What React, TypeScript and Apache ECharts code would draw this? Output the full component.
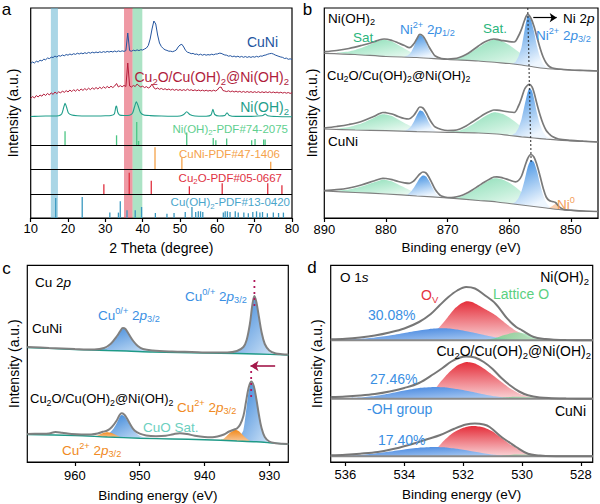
import React, { useEffect, useRef } from "react";
import * as echarts from "echarts";

type P = [number, number];
const FONT = "'Liberation Sans', Arial, Helvetica, sans-serif";

// ---------------- Panel a : XRD ----------------
const xrdStart = 10;
const xrdStep = 0.5;
const xrdTicks = [10, 20, 30, 40, 50, 60, 70, 80];
const xrdCuNi = [
  154.5, 156, 155, 156.8, 156, 157.8, 157, 158.9, 158.2, 160,
  159.4, 160.8, 160.5, 161.9, 161, 162.4, 161.8, 163, 162.2, 163.5,
  162.8, 164, 163.2, 164.3, 163.6, 164.8, 164, 165, 164.2, 165.3,
  164.5, 165.6, 164.8, 165.8, 165.1, 166, 165.3, 166.2, 165.5, 166.4,
  165.7, 166.6, 165.9, 166.7, 166, 167, 166.2, 167.1, 166.4, 167.2,
  166.6, 167.4, 185, 167.3, 166.8, 167.8, 167.2, 168.1, 167.4, 168.3,
  168, 169, 170, 172.5, 179, 189, 197, 194, 183, 175,
  171.5, 169.5, 168.2, 167.6, 166.8, 166.8, 166.3, 167, 168, 171,
  173, 173.7, 171, 167.5, 165.8, 165.2, 164.3, 164.6, 163.6, 164,
  163, 163.8, 162.8, 163.6, 162.8, 163.4, 163, 163.8, 163.2, 164,
  164, 164.8, 164.7, 163.8, 163, 162.8, 161.8, 162.3, 161.3, 161.9,
  161, 161.8, 160.8, 161.6, 160.7, 161.5, 160.6, 161.4, 160.6, 161.4,
  160.8, 161.7, 161, 162, 161.8, 162.7, 163, 163.8, 164.3, 164.6,
  164, 163, 162.3, 161.6, 161, 160.6, 159.5, 159.9, 158.7, 159.2,
  158.5,
];
const xrdCu2O = [
  119.5, 121.5, 120, 122.5, 121, 123, 121.8, 124, 122.5, 124.6,
  123, 125.2, 123.6, 126, 124.4, 126.2, 125, 127, 125.6, 127.4,
  126, 128, 126.4, 128.3, 126.8, 128.6, 127.2, 129, 127.6, 129.4,
  128, 129.8, 128.3, 130.2, 128.7, 130.5, 129, 130.8, 129.4, 131.2,
  129.8, 131.6, 130.1, 131.8, 130.4, 132, 134.5, 131, 132.4, 131.2,
  132.6, 131.5, 155, 132, 131, 132.5, 131.5, 134, 132.2, 131,
  131.8, 130.4, 131.4, 130, 131, 134, 130.2, 129, 130, 128.7,
  129.6, 128.4, 129.3, 128.1, 129, 127.9, 128.8, 127.7, 128.6, 127.6,
  128.5, 127.5, 128.4, 127.5, 128.8, 127.6, 128.3, 127.3, 128.2, 127.2,
  128, 127.1, 127.9, 127, 127.8, 126.9, 127.6, 126.9, 127.8, 127,
  128, 130.5, 131, 127.5, 127, 126.4, 127.2, 126.2, 127, 126,
  126.9, 125.9, 126.7, 125.7, 126.6, 125.6, 126.5, 125.6, 126.4, 125.5,
  126.3, 125.5, 126.3, 125.4, 126.2, 125.4, 126.2, 125.4, 126.2, 125.3,
  126, 125.2, 125.9, 125, 125.8, 124.9, 125.6, 124.8, 125.5, 124.6,
  125.3,
];
const xrdNiOH2: P[] = [
  [10, 101.5], [12, 101.8], [14, 102], [16, 102], [17.5, 102.3], [18.3, 104], [18.8, 110], [19.2, 114.7],
  [19.6, 111], [20.1, 105], [21, 103], [22.5, 102.3], [25, 102], [28, 102], [30, 102.2], [31.5, 102.5],
  [32.4, 104], [32.8, 111], [33.0, 112], [33.3, 106], [33.8, 103], [35, 102.5], [36.5, 102.8], [37.3, 105],
  [37.8, 111], [38.3, 116.3], [38.8, 112], [39.4, 105.5], [40.3, 103], [42, 102.4], [45, 102], [48, 101.8],
  [50, 102], [51, 103.5], [51.8, 106.3], [52.6, 103.5], [54, 102], [57, 101.8], [58.3, 103], [58.8, 108.7],
  [59.3, 103.5], [60.5, 102], [62, 102.5], [62.6, 105.3], [63.2, 102.5], [65, 101.6], [68, 101.6], [70, 101.8],
  [72.2, 102.5], [72.8, 104], [73.5, 102.3], [76, 101.5], [80, 101.2],
];
const pdfNiOH2: P[] = [
  [19.2, 13.7], [33.0, 9.7], [38.4, 23], [38.9, 4], [51.8, 12.4], [58.9, 7], [59.6, 4.7], [62.5, 6.4],
  [69.2, 4.7], [70.1, 6], [72.4, 5.5], [72.8, 5.5],
];
const pdfCuNi: P[] = [[43.3, 22.5], [50.5, 12.5], [74.3, 8]];
const pdfCu2O: P[] = [[29.6, 10], [36.4, 21.6], [42.3, 13.6], [52.5, 8], [61.3, 11], [73.5, 11], [77.3, 9]];
const pdfCuOH2: P[] = [
  [16.7, 20], [23.8, 21], [31.2, 5.4], [33.5, 5.4], [34.0, 16.7], [35.8, 7.7], [38.0, 7.7], [39.7, 11],
  [43.4, 5], [46.5, 4.3], [48.4, 5], [51.4, 6], [53.2, 11], [54.2, 6], [54.9, 6.7], [55.5, 6.7], [56.1, 6],
  [61.6, 5.4], [62.1, 6.7], [62.7, 6.7], [63.4, 6], [64.8, 6.7], [65.6, 5.4], [67.1, 5.4], [68.3, 4.7],
  [69.5, 6], [70.5, 6.7], [71.4, 5.4], [72.1, 6], [73.4, 4.7], [75.0, 5.4], [76.4, 5], [77.7, 5.4],
];
const pdfBases = [73, 48.3, 23.7, 0];
const xrdBands: P[] = [[15.4, 17.3], [35.0, 37.3], [37.3, 39.9]];

// ---------------- Panel b : Ni 2p ----------------
const niTicks = [850, 860, 870, 880, 890];
const niFitA: P[] = [
  [890, 166.3], [888, 167.5], [886, 169.5], [884, 172.5], [882, 176], [881, 178.3], [880.3, 179], [879, 177.5],
  [878, 175], [877, 172.5], [876.2, 170.3], [875.5, 174], [875, 179], [874.5, 183.7], [874, 182], [873.5, 177],
  [873, 171], [872.5, 166], [872, 162], [871, 159.5], [870, 159], [869, 159.3], [868, 160.8], [867, 163.5],
  [866, 167.5], [865, 172], [864, 176], [863, 178.5], [862.5, 179], [862, 178.6], [861, 177.3], [860, 176.3],
  [859.2, 176], [858.5, 182], [858, 189], [857.5, 198], [857, 203.7], [856.5, 200], [856, 192], [855.5, 181],
  [855, 170], [854.5, 161], [854, 155], [853.5, 151.5], [853, 150], [852, 149], [850, 148], [848, 147.5], [845.6, 147],
];
const niBgA: P[] = [
  [890, 164.7], [885, 163.5], [880, 161.5], [875, 160.5], [870, 158.5], [865, 157], [862, 155.5], [860, 154.5],
  [858, 153], [856, 151], [854, 149.5], [852, 148.7], [850, 148], [845.6, 147],
];
const niSat1A: P[] = [
  [888, 165.2], [886, 166.5], [884, 170], [882, 175], [881, 177.5], [880.5, 178.3], [880, 178], [879, 176.5],
  [878, 173], [877, 169.5], [876, 166], [875, 163.5], [874, 162], [873, 160.8], [872, 159.8],
];
const niP12A: P[] = [
  [877, 161], [876.5, 162.5], [876, 165], [875.5, 171], [875, 178.5], [874.5, 183], [874, 181], [873.5, 175.5],
  [873, 168.5], [872.5, 163.5], [872, 160.5], [871.5, 159.5],
];
const niSat2A: P[] = [
  [870, 158.5], [868, 160.5], [867, 163], [866, 166.5], [865, 170.5], [864, 174.5], [863, 177.5], [862.5, 178.5],
  [862, 178.3], [861, 176.5], [860, 173], [859, 168.5], [858, 164], [857, 159.5], [856, 155.5], [855, 152.5], [854, 150],
];
const niP32A: P[] = [
  [859.5, 154], [859, 156], [858.5, 161.5], [858, 171], [857.5, 188], [857, 202.5], [856.5, 198.5], [856, 187],
  [855.5, 172], [855, 161], [854.5, 154], [854, 151], [853.5, 149.8],
];
const niFitB: P[] = [
  [890, 90], [888, 91.5], [886, 93.5], [884, 96.5], [882, 101.5], [881, 104.5], [880.5, 105.5], [880, 105.3],
  [879, 104], [878, 101.5], [877, 99.5], [876.3, 99], [875.5, 102.5], [875, 107], [874.5, 111], [874, 110],
  [873.5, 105.5], [873, 99.5], [872.5, 94.5], [872, 91], [871, 88.5], [870, 87.5], [869, 87.6], [868, 89],
  [867, 92], [866, 96], [865, 100], [864, 104], [863, 107], [862.5, 108], [862, 107.8], [861, 107], [860, 106],
  [859.2, 105.5], [858.5, 112], [858, 120], [857.5, 129], [857, 133], [856.7, 133.7], [856.3, 131], [856, 126],
  [855.5, 114], [855, 103], [854.5, 94], [854, 87.5], [853.5, 84], [853, 81.5], [852, 79], [850, 77.6], [848, 76.8], [845.6, 76],
];
const niBgB: P[] = [
  [890, 89], [885, 88], [880, 87.3], [875, 86.3], [870, 85.7], [865, 85], [862, 84], [860, 82.5], [858, 81.2],
  [856, 80], [854, 78.8], [852, 77.8], [850, 77.2], [845.6, 76],
];
const niSat1B: P[] = [
  [888, 89], [886, 91], [884, 94.5], [882, 100], [881, 103], [880.5, 103.8], [880, 103.6], [879, 102], [878, 98.5],
  [877, 95], [876, 92], [875, 89.5], [874, 88], [873, 87],
];
const niP12B: P[] = [
  [877, 87.2], [876.5, 88.5], [876, 91], [875.5, 96], [875, 102.5], [874.5, 107.5], [874, 106.5], [873.5, 101.5],
  [873, 95], [872.5, 90], [872, 87.3], [871.5, 86.2],
];
const niSat2B: P[] = [
  [870, 86], [868, 87.5], [867, 90], [866, 93.5], [865, 97.5], [864, 101.5], [863, 104.8], [862.5, 105.8],
  [862, 105.6], [861, 104], [860, 100.5], [859, 96], [858, 91], [857, 87], [856, 83.5], [855, 81],
];
const niP32B: P[] = [
  [859.5, 83], [859, 85], [858.5, 90], [858, 99], [857.5, 113], [857, 126], [856.7, 130], [856.3, 127], [856, 120],
  [855.5, 105], [855, 93.5], [854.5, 86], [854, 81.5], [853.5, 79.5],
];
const niFitC: P[] = [
  [890, 27.5], [888, 28.3], [886, 30], [884, 33], [882, 37], [881, 39], [880.5, 39.7], [880, 39.5], [879, 38.3],
  [878, 36.5], [877, 35.2], [876.2, 34.7], [875.5, 37], [875, 40.5], [874.5, 44], [874, 46], [873.5, 45], [873, 40.5],
  [872.5, 34.5], [872, 28.5], [871.5, 24.5], [871, 22], [870, 20.5], [869, 20.7], [868, 22], [867, 24.5], [866, 28],
  [865, 32], [864, 36], [863, 39.5], [862.5, 41], [862, 41.2], [861, 40], [860, 38], [859, 36.2], [858.5, 37.5],
  [858, 42], [857.5, 51], [857, 59.5], [856.5, 63.5], [856, 61], [855.5, 53], [855, 42], [854.5, 30], [854, 21],
  [853.5, 17.5], [853, 16.5], [852.5, 15.5], [852, 12], [851.5, 9.5], [851, 8.3], [850, 7.8], [848, 7], [845.6, 6.5],
];
const niBgC: P[] = [
  [890, 27], [885, 25.5], [880, 24], [875, 22], [870, 20], [865, 17.5], [862, 16], [860, 14.5], [858, 13],
  [856, 11.5], [854, 10], [852, 8.5], [850, 7.5], [845.6, 6.5],
];
const niSat1C: P[] = [
  [888, 27], [886, 28.5], [884, 31.5], [882, 35.5], [881, 37.5], [880.5, 38.2], [880, 38], [879, 36.5], [878, 33.5],
  [877, 30.5], [876, 27.5], [875, 25], [874, 23.3], [873, 22.3],
];
const niP12C: P[] = [
  [877, 22.5], [876.5, 23.5], [876, 26], [875.5, 30], [875, 35], [874.5, 40], [874, 42.5], [873.5, 41.5], [873, 37],
  [872.5, 31], [872, 25.5], [871.5, 22], [871, 20.5],
];
const niSat2C: P[] = [
  [870, 20], [868, 21], [867, 23.5], [866, 27], [865, 31], [864, 35], [863, 38.5], [862.5, 39.7], [862, 39.8],
  [861, 38.3], [860, 35.3], [859, 31], [858, 26], [857, 21.5], [856, 17.5], [855, 14.5], [854, 12],
];
const niP32C: P[] = [
  [859.5, 14], [859, 16], [858.5, 20], [858, 27], [857.5, 38], [857, 51], [856.5, 58], [856, 56], [855.5, 47],
  [855, 34], [854.5, 23], [854, 15.5], [853.5, 11.5], [853, 10.5],
];
const niNi0C: P[] = [[853.5, 10], [853, 12], [852.5, 14], [852, 12.5], [851.5, 9.5], [851, 8.5]];
const niGuide: P[] = [[857.0, 209.7], [856.45, 56]];
const niArrow: P[] = [[856.1, 200.3], [852.3, 200.3]];

// ---------------- Panel c : Cu 2p ----------------
const cuTicks = [930, 940, 950, 960];
const cuFitA: P[] = [
  [967.35, 115], [964, 114], [960, 113], [957, 112.5], [955.5, 114], [954.5, 118], [953.5, 126], [953, 131],
  [952.6, 134], [952.2, 133], [951.7, 128], [951, 121], [950.3, 116], [949.5, 113], [948, 111.5], [945, 110.5],
  [942, 110], [939, 109.5], [936.5, 109.5], [935, 111], [934, 115], [933.5, 122], [933, 138], [932.6, 158],
  [932.3, 166], [932, 160], [931.6, 145], [931.2, 130], [930.7, 118], [930, 111.5], [929, 108.5], [928, 107.8], [927.07, 107.5],
];
const cuBgA: P[] = [
  [967.35, 114.5], [960, 112.5], [955, 111.5], [952, 111], [948, 110], [940, 109], [935, 108.5], [932, 108], [927.07, 107],
];
const cuP1A: P[] = [
  [958, 112.2], [957, 112.5], [956, 113], [955, 114.3], [954.5, 117], [953.5, 125], [953, 130.5], [952.6, 133.5],
  [952.2, 132.5], [951.7, 127.5], [951, 120.5], [950.3, 115.5], [949.5, 112.5], [948.5, 111], [947.5, 110.3],
];
const cuP2A: P[] = [
  [936, 108.8], [935, 110.5], [934, 114.5], [933.5, 121.5], [933, 137], [932.6, 157], [932.3, 165], [932, 159],
  [931.6, 144], [931.2, 129], [930.7, 117], [930, 110.5], [929.5, 108.5], [929, 107.8],
];
const cuFitB: P[] = [
  [967.35, 28], [965.5, 28.3], [964, 28.6], [963, 30], [962, 29.3], [960.5, 28], [959, 27.5], [957.5, 27.6],
  [956.5, 28.5], [955.7, 30.2], [955, 31.5], [954.3, 35], [953.6, 41], [953.1, 47], [952.8, 48.7], [952.4, 47.5],
  [952, 44], [951.4, 37], [950.8, 31.5], [950, 28.3], [949, 26.5], [947.5, 25.8], [946, 26.2], [944.8, 27.8],
  [943.8, 28.8], [942.7, 28], [941.5, 26.3], [940, 25], [938.8, 24.8], [938, 25.5], [937, 27.5], [936.2, 30.5],
  [935.5, 32.3], [935, 33.5], [934.5, 37.5], [934, 46], [933.6, 60], [933.2, 74], [932.8, 80.5], [932.4, 76],
  [932, 63], [931.6, 47], [931.2, 34], [930.7, 25], [930, 20.5], [929, 18.8], [928, 18.2], [927.07, 18],
];
const cuBgB: P[] = [
  [967.35, 27.5], [960, 26.5], [955, 25], [950, 23.8], [945, 23], [940, 22.3], [935, 21], [932, 20.2], [930, 19.3], [927.07, 17.8],
];
const cuOr1B: P[] = [
  [957.5, 25.6], [956.5, 26.6], [956, 28], [955.5, 29.3], [955, 29.8], [954.5, 29.3], [954, 28], [953.5, 26.5], [953, 25], [952.5, 24.6],
];
const cuP1B: P[] = [
  [955.5, 25.5], [955, 26.8], [954.5, 30], [954, 33.8], [953.5, 39.5], [953.1, 45], [952.8, 47], [952.4, 46],
  [952, 42.5], [951.4, 36], [950.8, 30.5], [950.2, 27], [949.5, 25], [948.5, 24],
];
const cuOr2B: P[] = [
  [937.5, 22], [937, 23.5], [936.5, 26.5], [936, 29.5], [935.5, 31.5], [935.2, 32], [934.8, 31.3], [934.3, 28.5],
  [933.8, 25], [933.3, 22.5], [933, 21.3],
];
const cuP2B: P[] = [
  [935, 22], [934.5, 25.5], [934, 32], [933.6, 50], [933.2, 70], [932.8, 79.5], [932.4, 75], [932, 62], [931.6, 46],
  [931.2, 33], [930.7, 24.5], [930.2, 20.5], [929.8, 19.5],
];
const cuGuideA: P[] = [[932.3, 182], [932.3, 152]];
const cuGuideB: P[] = [[932.8, 91], [932.8, 65]];
const cuArrow: P[] = [[929.1, 96], [932.9, 96]];

// ---------------- Panel d : O 1s ----------------
const oTicks = [528, 530, 532, 534, 536];
const oBase = [121.7, 63.3, 5.7];
const oFitA: P[] = [
  [536.5, 122.7], [536, 123.2], [535.5, 124.5], [535, 126.5], [534.5, 129.5], [534, 133.5], [533.5, 140], [533.1, 148],
  [532.8, 156.7], [532.5, 165], [532.2, 171.5], [531.9, 175], [531.6, 173.5], [531.3, 167.5], [530.9, 158.3],
  [530.5, 143.3], [530.2, 135], [530, 131.7], [529.6, 125], [529.2, 123], [528.9, 122.3], [528.5, 121.9], [527.6, 121.7],
];
const oBlueA: P[] = [
  [536.3, 122], [536, 122.4], [535.5, 123.2], [535, 124.5], [534.5, 126.5], [534, 129], [533.5, 131.5], [533, 133.5],
  [532.6, 133.8], [532.2, 132.5], [531.8, 130.3], [531.4, 127.8], [531, 125.3], [530.6, 123.4], [530.2, 122.2], [529.8, 121.8],
];
const oRedA: P[] = [
  [533.4, 122.5], [533.1, 126], [532.8, 135], [532.6, 142], [532.3, 153], [532.1, 158], [531.9, 160.7], [531.7, 160],
  [531.5, 157], [531.2, 152], [530.9, 146.7], [530.5, 137.3], [530.2, 131], [530, 128.3], [529.8, 125], [529.5, 122.6], [529.2, 121.9],
];
const oGreenA: P[] = [
  [531.2, 122], [530.9, 124], [530.6, 127], [530.3, 129.3], [530, 129], [529.7, 126.5], [529.4, 124], [529.1, 122.5], [528.8, 121.8],
];
const oFitB: P[] = [
  [536.5, 65], [536, 65.5], [535.5, 66.5], [535, 68], [534.5, 70.5], [534, 74], [533.5, 79], [533, 88], [532.7, 94],
  [532.4, 100.5], [532.1, 104.5], [531.9, 105.5], [531.6, 104.5], [531.3, 100], [531, 93], [530.7, 84], [530.4, 76.5],
  [530.1, 70.5], [529.8, 66.8], [529.4, 64.5], [529, 63.8], [528.5, 63.4], [527.6, 63.3],
];
const oBlueB: P[] = [
  [536.2, 63.6], [535.5, 64.5], [535, 66], [534.5, 68.5], [534, 71.5], [533.5, 74], [533, 75], [532.6, 74.6],
  [532.2, 73], [531.8, 70.8], [531.4, 68.3], [531, 66], [530.6, 64.5], [530.2, 63.6],
];
const oRedB: P[] = [
  [533.4, 64], [533.1, 68], [532.8, 79], [532.5, 89], [532.2, 96.5], [531.9, 100], [531.6, 98.5], [531.3, 93.5],
  [531, 87], [530.7, 80], [530.4, 73.5], [530.1, 68.5], [529.8, 65.5], [529.5, 64], [529.2, 63.4],
];
const oGreenB: P[] = [[530.9, 63.5], [530.6, 64.5], [530.3, 65.2], [530, 65.3], [529.7, 64.8], [529.4, 64], [529.1, 63.4]];
const oFitC: P[] = [
  [536.5, 6.7], [536, 7.3], [535.5, 8.3], [534.9, 10], [534.3, 13.5], [533.7, 18.3], [533.2, 23], [532.8, 26.7],
  [532.3, 33.3], [531.9, 37.5], [531.6, 38.5], [531.3, 37.5], [531.1, 35], [530.7, 25], [530.4, 19], [530.2, 15],
  [529.8, 8.3], [529.4, 6.5], [529.2, 6], [528.5, 5.8], [527.6, 5.7],
];
const oBlueC: P[] = [
  [536.2, 6], [535.5, 7], [535, 8.5], [534.5, 10.5], [534, 12.6], [533.5, 14.3], [533, 15], [532.6, 14.6],
  [532.2, 13.2], [531.8, 11.3], [531.4, 9.3], [531, 7.5], [530.6, 6.3], [530.2, 5.8],
];
const oRedC: P[] = [
  [533.3, 6.5], [533, 10], [532.7, 20], [532.4, 28], [532.1, 33], [531.8, 35.7], [531.6, 36], [531.3, 34.5],
  [531, 30.5], [530.7, 24], [530.4, 17.5], [530.1, 12.5], [529.8, 9], [529.5, 7], [529.2, 6],
];
const oGreenC: P[] = [[530.8, 5.8], [530.5, 6.8], [530.2, 7.5], [529.9, 7.6], [529.6, 7], [529.3, 6.2], [529, 5.8]];

// ---------------- helpers ----------------
const lg = (x2: number, y2: number, stops: [number, string][]) =>
  new echarts.graphic.LinearGradient(0, 0, x2, y2, stops.map(([offset, color]) => ({ offset, color })));

function line(gi: number, data: P[], color: string, width: number, extra: any = {}) {
  return {
    type: "line", xAxisIndex: gi, yAxisIndex: gi, data, showSymbol: false, symbol: "none",
    smooth: 0.3, silent: true, z: 4, lineStyle: { color, width }, ...extra,
  };
}

function poly(gi: number, comp: P[], base: P[], fill: any, opacity = 1) {
  return {
    type: "custom", xAxisIndex: gi, yAxisIndex: gi, z: 2, silent: true, data: comp,
    renderItem: (params: any, api: any) => {
      if (params.dataIndex !== 0) return null;
      const first = comp[0][0];
      const last = comp[comp.length - 1][0];
      const lo = Math.min(first, last);
      const hi = Math.max(first, last);
      const desc = first > last;
      const back = base
        .filter((p) => p[0] > lo && p[0] < hi)
        .sort((a, b) => (desc ? a[0] - b[0] : b[0] - a[0]));
      const pts = comp.concat(back).map((p) => api.coord(p));
      return { type: "polygon", shape: { points: pts, smooth: 0.2 }, style: { fill, opacity } };
    },
  };
}

function sticks(gi: number, data: P[], base: number, color: string) {
  return {
    type: "custom", xAxisIndex: gi, yAxisIndex: gi, z: 3, silent: true, data,
    renderItem: (params: any, api: any) => {
      const x = api.value(0);
      const h = api.value(1);
      const a = api.coord([x, base]);
      const b = api.coord([x, base + h]);
      return { type: "line", shape: { x1: a[0], y1: a[1], x2: b[0], y2: b[1] }, style: { stroke: color, lineWidth: 1.3 } };
    },
  };
}

function xAx(gi: number, min: number, max: number, ticks: number[], name: string, nameGap: number, margin: number, inverse: boolean, nameSize: number) {
  return {
    type: "value", gridIndex: gi, min, max, inverse,
    name, nameLocation: "middle", nameGap,
    nameTextStyle: { fontFamily: FONT, fontSize: nameSize, color: "#000" },
    axisLine: { show: true, onZero: false, lineStyle: { color: "#000", width: 1.2 } },
    axisTick: { show: true, inside: false, length: 4, customValues: ticks, lineStyle: { color: "#000", width: 1.2 } },
    axisLabel: {
      show: true, margin, customValues: ticks, fontFamily: FONT, fontSize: 13, color: "#000",
      formatter: (v: number) => (ticks.indexOf(Math.round(v)) >= 0 && Math.abs(v - Math.round(v)) < 1e-6 ? String(Math.round(v)) : ""),
    },
    splitLine: { show: false },
  };
}

function yAx(gi: number, max: number, nameGap: number, nameSize: number) {
  return {
    type: "value", gridIndex: gi, min: 0, max,
    name: "Intensity (a.u.)", nameLocation: "middle", nameGap,
    nameTextStyle: { fontFamily: FONT, fontSize: nameSize, color: "#000" },
    axisLine: { show: false }, axisTick: { show: false }, axisLabel: { show: false }, splitLine: { show: false },
  };
}

function txt(x: number, y: number, text: string, color: string, fs: number, align = "left") {
  const s = Math.round(fs * 0.68 * 10) / 10;
  return {
    type: "text", x, y, silent: true, z: 100,
    style: {
      text, fill: color, fontSize: fs, fontFamily: FONT, lineHeight: fs + 4,
      align, verticalAlign: "middle", textAlign: align, textVerticalAlign: "middle",
      rich: {
        sub: { fontSize: s, fontFamily: FONT, fill: color, verticalAlign: "bottom", lineHeight: s },
        sup: { fontSize: s, fontFamily: FONT, fill: color, verticalAlign: "top", lineHeight: s },
        it: { fontSize: fs, fontFamily: FONT, fill: color, fontStyle: "italic", lineHeight: fs + 4 },
      },
    },
  };
}

function buildOption() {
  const gridBase = { show: true, borderColor: "#000", borderWidth: 1.2, backgroundColor: "transparent", containLabel: false, outerBoundsMode: "none" };
  const satFill = lg(1, 1, [[0, "#84dbb2"], [0.55, "#c4efda"], [1, "#ffffff"]]);
  const niBlue = lg(0.4, 1, [[0, "#2f86e0"], [1, "#eef6fe"]]);
  const cuBlue = lg(1, 1, [[0, "#2f7ed6"], [1, "#d3e6f8"]]);
  const cuOrange = lg(0, 1, [[0, "#f28a1c"], [1, "#f8c596"]]);
  const oRed = lg(0, 1, [[0, "#e52e3a"], [1, "#f9d2d5"]]);
  const oBlue = lg(1, 1, [[0, "#2f78dc"], [1, "#b8d3f4"]]);
  const oGreen = lg(1, 0, [[0, "#58cf7e"], [1, "#c9f0d5"]]);
  const bandColors = ["rgba(100,180,210,0.55)", "rgba(225,70,90,0.55)", "rgba(90,200,140,0.5)"];

  const series: any[] = [];
  // ---- panel a ----
  series.push(
    line(0, xrdNiOH2, "#1f9e8a", 1.1, {
      smooth: 0.2, z: 4,
      markArea: {
        silent: true, z: 1, label: { show: false },
        data: xrdBands.map((b, i) => [{ xAxis: b[0], itemStyle: { color: bandColors[i] } }, { xAxis: b[1] }]),
      },
      markLine: {
        silent: true, z: 6, symbol: ["none", "none"], label: { show: false },
        lineStyle: { color: "#000", width: 1.2, type: "solid" },
        data: pdfBases.slice(0, 3).map((v) => ({ yAxis: v })),
      },
    }),
  );
  series.push(line(0, xrdCu2O.map((v, i) => [xrdStart + i * xrdStep, v] as P), "#b51e3c", 1, { smooth: false }));
  series.push(line(0, xrdCuNi.map((v, i) => [xrdStart + i * xrdStep, v] as P), "#24559f", 1, { smooth: false }));
  series.push(sticks(0, pdfNiOH2, pdfBases[0], "#4cc684"));
  series.push(sticks(0, pdfCuNi, pdfBases[1], "#f5a24a"));
  series.push(sticks(0, pdfCu2O, pdfBases[2], "#e0303f"));
  series.push(sticks(0, pdfCuOH2, pdfBases[3], "#3a98c0"));

  // ---- panel b ----
  const niSets: [P[], P[], P[], P[], P[], P[]][] = [
    [niFitA, niBgA, niSat1A, niP12A, niSat2A, niP32A],
    [niFitB, niBgB, niSat1B, niP12B, niSat2B, niP32B],
    [niFitC, niBgC, niSat1C, niP12C, niSat2C, niP32C],
  ];
  niSets.forEach(([fit, bg, s1, p1, s2, p3]) => {
    series.push(poly(1, s1, bg, satFill));
    series.push(poly(1, p1, bg, niBlue));
    series.push(poly(1, s2, bg, satFill));
    series.push(poly(1, p3, bg, niBlue));
  });
  series.push(poly(1, niNi0C, niBgC, "#fbcfae"));
  niSets.forEach(([fit, bg]) => {
    series.push(line(1, bg, "#808080", 1.2, { z: 3 }));
    series.push(line(1, fit, "#7a7a7a", 1.7, { z: 4, smooth: 0.35 }));
  });
  series.push(
    line(1, niGuide, "#222", 1.3, {
      smooth: false, z: 5, lineStyle: { color: "#222", width: 1.3, type: [1.5, 2.5] },
      markLine: {
        silent: true, symbol: ["none", "arrow"], symbolSize: 7, label: { show: false },
        lineStyle: { color: "#000", width: 1.2, type: "solid" },
        data: [[{ coord: niArrow[0] }, { coord: niArrow[1] }]],
      },
    }),
  );

  // ---- panel c ----
  series.push(poly(2, cuP1A, cuBgA, cuBlue));
  series.push(poly(2, cuP2A, cuBgA, cuBlue));
  series.push(poly(2, cuP1B, cuBgB, cuBlue));
  series.push(poly(2, cuOr1B, cuBgB, cuOrange));
  series.push(poly(2, cuP2B, cuBgB, cuBlue));
  series.push(poly(2, cuOr2B, cuBgB, cuOrange));
  series.push(line(2, cuBgA, "#1f9a88", 1.4, { z: 3 }));
  series.push(line(2, cuBgB, "#1f9a88", 1.4, { z: 3 }));
  series.push(line(2, cuFitA, "#808080", 2, { z: 4, smooth: 0.35 }));
  series.push(line(2, cuFitB, "#808080", 2, { z: 4, smooth: 0.35 }));
  series.push(line(2, cuGuideA, "#b0185a", 1.6, { smooth: false, z: 5, lineStyle: { color: "#b0185a", width: 1.8, type: [2, 4] } }));
  series.push(
    line(2, cuGuideB, "#b0185a", 1.6, {
      smooth: false, z: 5, lineStyle: { color: "#b0185a", width: 1.8, type: [2, 4] },
      markLine: {
        silent: true, symbol: ["none", "arrow"], symbolSize: 8, label: { show: false },
        lineStyle: { color: "#a3174a", width: 1.6, type: "solid" },
        data: [[{ coord: cuArrow[0] }, { coord: cuArrow[1] }]],
      },
    }),
  );

  // ---- panel d ----
  const oSets: [P[], P[], P[], P[], number][] = [
    [oFitA, oRedA, oBlueA, oGreenA, oBase[0]],
    [oFitB, oRedB, oBlueB, oGreenB, oBase[1]],
    [oFitC, oRedC, oBlueC, oGreenC, oBase[2]],
  ];
  oSets.forEach(([fit, red, blue, green, b]) => {
    const base: P[] = [[536.5, b], [527.6, b]];
    series.push(poly(3, red, base, oRed));
    series.push(poly(3, blue, base, oBlue));
    series.push(poly(3, green, base, oGreen, 0.75));
    series.push(line(3, base, "#8a8a8a", 2, { z: 3, smooth: false }));
    series.push(line(3, fit, "#777", 2, { z: 4, smooth: 0.35 }));
  });

  const graphic: any[] = [
    txt(6.5, 9, "a", "#000", 17, "center"),
    txt(307.5, 9, "b", "#000", 17, "center"),
    txt(6.5, 268, "c", "#000", 17, "center"),
    txt(312, 267.5, "d", "#000", 17, "center"),
    // panel a
    txt(278, 42, "CuNi", "#24559f", 14, "right"),
    txt(289, 77, "Cu{sub|2}O/Cu(OH){sub|2}@Ni(OH){sub|2}", "#b01c3c", 14, "right"),
    txt(289, 107, "Ni(OH){sub|2}", "#1f9e8a", 14, "right"),
    txt(288, 128.5, "Ni(OH){sub|2}-PDF#74-2075", "#5fcf8f", 11.5, "right"),
    txt(280, 154, "CuNi-PDF#47-1406", "#f5a24a", 11.5, "right"),
    txt(282, 177.7, "Cu{sub|2}O-PDF#05-0667", "#e0313f", 11.5, "right"),
    txt(290, 202.3, "Cu(OH){sub|2}-PDF#13-0420", "#4aa5cb", 11.5, "right"),
    // panel b
    txt(328, 18, "Ni(OH){sub|2}", "#000", 13.5),
    txt(353, 37, "Sat.", "#2bb57d", 13.5),
    txt(400, 29, "Ni{sup|2+} 2{it|p}{sub|1/2}", "#3a8fe3", 13.5),
    txt(483, 28, "Sat.", "#2bb57d", 13.5),
    txt(536, 35, "Ni{sup|2+} 2{it|p}{sub|3/2}", "#3a8fe3", 13.5),
    txt(563, 18, "Ni 2{it|p}", "#000", 13.5),
    txt(327, 75, "Cu{sub|2}O/Cu(OH){sub|2}@Ni(OH){sub|2}", "#000", 13),
    txt(328, 141.7, "CuNi", "#000", 13.5),
    txt(557, 204, "Ni{sup|0}", "#f4a05a", 13.5),
    // panel c
    txt(35, 282, "Cu 2{it|p}", "#000", 13.5),
    txt(185, 296, "Cu{sup|0/+} 2{it|p}{sub|3/2}", "#3a8fe3", 13.5),
    txt(98, 315, "Cu{sup|0/+} 2{it|p}{sub|3/2}", "#3a8fe3", 13.5),
    txt(32, 328.7, "CuNi", "#000", 13.5),
    txt(30, 398.7, "Cu{sub|2}O/Cu(OH){sub|2}@Ni(OH){sub|2}", "#000", 13),
    txt(177, 407, "Cu{sup|2+} 2{it|p}{sub|3/2}", "#f08a24", 13.5),
    txt(143, 427, "CuO Sat.", "#6ccfc0", 13.5),
    txt(62, 450, "Cu{sup|2+} 2{it|p}{sub|3/2}", "#f08a24", 13.5),
    // panel d
    txt(340, 277, "O 1{it|s}", "#000", 13.5),
    txt(589, 277, "Ni(OH){sub|2}", "#000", 14, "right"),
    txt(421, 295, "O{sub|V}", "#e5343e", 14),
    txt(493, 294, "Lattice O", "#5bd07f", 14),
    txt(368, 315, "30.08%", "#3a8fe3", 14),
    txt(591, 351, "Cu{sub|2}O/Cu(OH){sub|2}@Ni(OH){sub|2}", "#000", 14, "right"),
    txt(370, 379, "27.46%", "#3a8fe3", 14),
    txt(367, 409, "-OH group", "#3a8fe3", 14),
    txt(586, 411, "CuNi", "#000", 14, "right"),
    txt(378, 440, "17.40%", "#3a8fe3", 14),
  ];

  return {
    animation: false,
    backgroundColor: "#fff",
    grid: [
      { ...gridBase, left: 30.7, top: 8, width: 261.3, height: 210 },
      { ...gridBase, left: 324.3, top: 8, width: 273.7, height: 210 },
      { ...gridBase, left: 27.3, top: 265.3, width: 261, height: 196.7 },
      { ...gridBase, left: 330.7, top: 265.3, width: 262, height: 196.7 },
    ],
    xAxis: [
      xAx(0, 10, 80, xrdTicks, "2 Theta (degree)", 23, 4, false, 14),
      xAx(1, 845.6, 890, niTicks, "Binding energy (eV)", 22, 5, true, 13.5),
      xAx(2, 927.07, 967.35, cuTicks, "Binding energy (eV)", 26, 7, true, 13.5),
      xAx(3, 527.6, 536.5, oTicks, "Binding energy (eV)", 25, 6, true, 13.5),
    ],
    yAxis: [yAx(0, 210, 11, 14), yAx(1, 210, 5, 14), yAx(2, 196.7, 6, 14), yAx(3, 196.7, 7, 14)],
    series,
    graphic,
  };
}

export default function App() {
  const ref = useRef<HTMLDivElement>(null);
  useEffect(() => {
    const chart = echarts.init(ref.current!, null, { renderer: "svg" });
    chart.setOption(buildOption() as any);
    return () => chart.dispose();
  }, []);
  return (
    <div
      ref={ref}
      style={{ position: "absolute", left: 0, top: 0, width: 600, height: 504, background: "#fff" }}
    />
  );
}
